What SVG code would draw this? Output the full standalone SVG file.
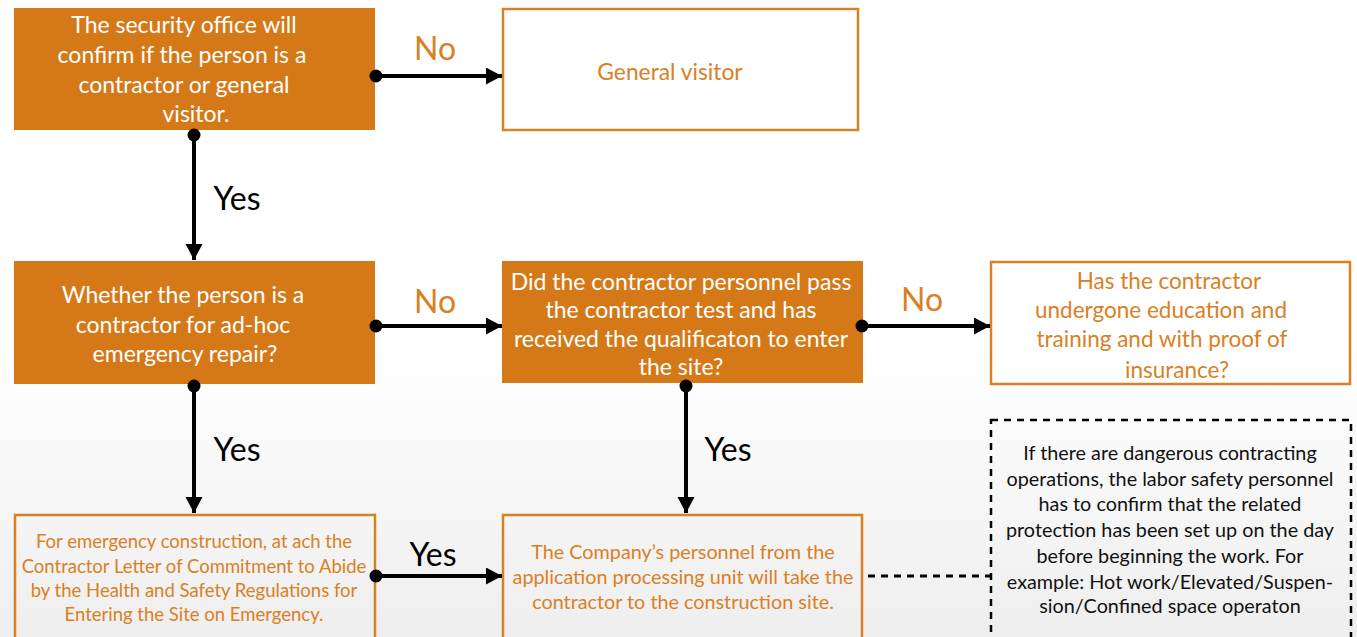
<svg xmlns="http://www.w3.org/2000/svg" width="1357" height="637" viewBox="0 0 1357 637">
  <defs>
    <linearGradient id="bg" x1="0" y1="0" x2="0" y2="1">
      <stop offset="0" stop-color="#ffffff"/>
      <stop offset="0.55" stop-color="#ffffff"/>
      <stop offset="1" stop-color="#eeeeee"/>
    </linearGradient>
    <marker id="arrow" markerUnits="userSpaceOnUse" markerWidth="16" markerHeight="18" refX="16" refY="8.5" orient="auto">
      <path d="M0,0 L16,8.5 L0,17 z" fill="#000"/>
    </marker>
    <marker id="dot" markerUnits="userSpaceOnUse" markerWidth="14" markerHeight="14" refX="7" refY="7" orient="auto">
      <circle cx="7" cy="7" r="6.5" fill="#000"/>
    </marker>
  </defs>
  <style>
    .solid { fill: #d57918; }
    .outline { fill: none; stroke: #d98024; stroke-width: 2.5; }
    .outline-w { fill: #ffffff; stroke: #d98024; stroke-width: 2.5; }
    .note { fill: none; stroke: #000; stroke-width: 2.5; stroke-dasharray: 7 6; }
    text { font-family: Lato, "Liberation Sans", sans-serif; text-anchor: middle; }
    .wt { fill: #ffffff; font-size: 23px; }
    .ot { fill: #d98024; }
    .bt { fill: #111111; font-size: 19.8px; }
    .lbl { font-size: 32px; }
    .lbl-o { fill: #d98024; }
    .lbl-k { fill: #000000; }
    .conn { stroke: #000; stroke-width: 4; fill: none; marker-start: url(#dot); marker-end: url(#arrow); }
    .dash { stroke: #000; stroke-width: 3; fill: none; stroke-dasharray: 7 6; }
  </style>

  <rect x="0" y="0" width="1357" height="637" fill="url(#bg)"/>

  <!-- decision: contractor or visitor -->
  <g id="node-security">
    <rect class="solid" x="14" y="8" width="361" height="122"/>
    <text class="wt" x="184" y="33">The security office will</text>
    <text class="wt" x="182" y="63">confirm if the person is a</text>
    <text class="wt" x="184" y="93">contractor or general</text>
    <text class="wt" x="196" y="122">visitor.</text>
  </g>

  <g id="node-visitor">
    <rect class="outline-w" x="503" y="9" width="355" height="121"/>
    <text class="ot" x="670" y="80" font-size="22.8">General visitor</text>
  </g>

  <g id="node-emergency">
    <rect class="solid" x="14" y="261" width="361" height="123"/>
    <text class="wt" x="183" y="303">Whether the person is a</text>
    <text class="wt" x="183" y="333">contractor for ad-hoc</text>
    <text class="wt" x="185" y="362">emergency repair?</text>
  </g>

  <g id="node-test">
    <rect class="solid" x="502" y="261" width="361" height="122"/>
    <text class="wt" x="681" y="290" font-size="20.6">Did the contractor personnel pass</text>
    <text class="wt" x="681" y="318" font-size="20.6">the contractor test and has</text>
    <text class="wt" x="681" y="347" font-size="20.6">received the qualificaton  to enter</text>
    <text class="wt" x="681" y="375" font-size="20.6">the site?</text>
  </g>

  <g id="node-training">
    <rect class="outline-w" x="991" y="262" width="359" height="122"/>
    <text class="ot" x="1169" y="289" font-size="22.5">Has the contractor</text>
    <text class="ot" x="1161" y="318" font-size="22.5">undergone education and</text>
    <text class="ot" x="1162" y="347" font-size="22.5">training and with proof of</text>
    <text class="ot" x="1177" y="378" font-size="22.5">insurance?</text>
  </g>

  <g id="node-letter">
    <rect class="outline" x="15" y="515" width="360" height="130"/>
    <text class="ot" x="194" y="548" font-size="18.5">For emergency construction, at ach the</text>
    <text class="ot" x="194" y="573" font-size="18.5">Contractor Letter of Commitment to Abide</text>
    <text class="ot" x="194" y="597" font-size="18.5">by the Health and Safety Regulations for</text>
    <text class="ot" x="194" y="621" font-size="18.5">Entering the Site on Emergency.</text>
  </g>

  <g id="node-escort">
    <rect class="outline" x="503" y="515" width="359" height="130"/>
    <text class="ot" x="683" y="559" font-size="19.8">The Company’s personnel from the</text>
    <text class="ot" x="683" y="584" font-size="19.8">application processing unit will take the</text>
    <text class="ot" x="683" y="609" font-size="19.8">contractor to the construction site.</text>
  </g>

  <g id="node-note">
    <rect class="note" x="991" y="420" width="360" height="240"/>
    <text class="bt" x="1170" y="460">If there are dangerous contracting</text>
    <text class="bt" x="1170" y="486">operations, the labor safety personnel</text>
    <text class="bt" x="1170" y="511">has to confirm that the related</text>
    <text class="bt" x="1170" y="537">protection has been set up on the day</text>
    <text class="bt" x="1170" y="563">before beginning the work. For</text>
    <text class="bt" x="1170" y="589">example: Hot work/Elevated/Suspen-</text>
    <text class="bt" x="1170" y="613">sion/Confined space operaton</text>
  </g>

  <g id="connectors">
    <line class="conn" x1="376" y1="76" x2="502" y2="76"/>
    <line class="conn" x1="194" y1="135" x2="194" y2="260"/>
    <line class="conn" x1="376" y1="326" x2="502" y2="326"/>
    <line class="conn" x1="862" y1="326" x2="990" y2="326"/>
    <line class="conn" x1="194" y1="386" x2="194" y2="513"/>
    <line class="conn" x1="686" y1="386" x2="686" y2="513"/>
    <line class="conn" x1="376" y1="576" x2="502" y2="576"/>
    <line class="dash" x1="868" y1="576" x2="990" y2="576"/>

    <text class="lbl lbl-o" x="435" y="60">No</text>
    <text class="lbl lbl-k" x="237" y="210">Yes</text>
    <text class="lbl lbl-o" x="435" y="313">No</text>
    <text class="lbl lbl-o" x="922" y="311">No</text>
    <text class="lbl lbl-k" x="237" y="461">Yes</text>
    <text class="lbl lbl-k" x="728" y="461">Yes</text>
    <text class="lbl lbl-k" x="433" y="566">Yes</text>
  </g>
</svg>
